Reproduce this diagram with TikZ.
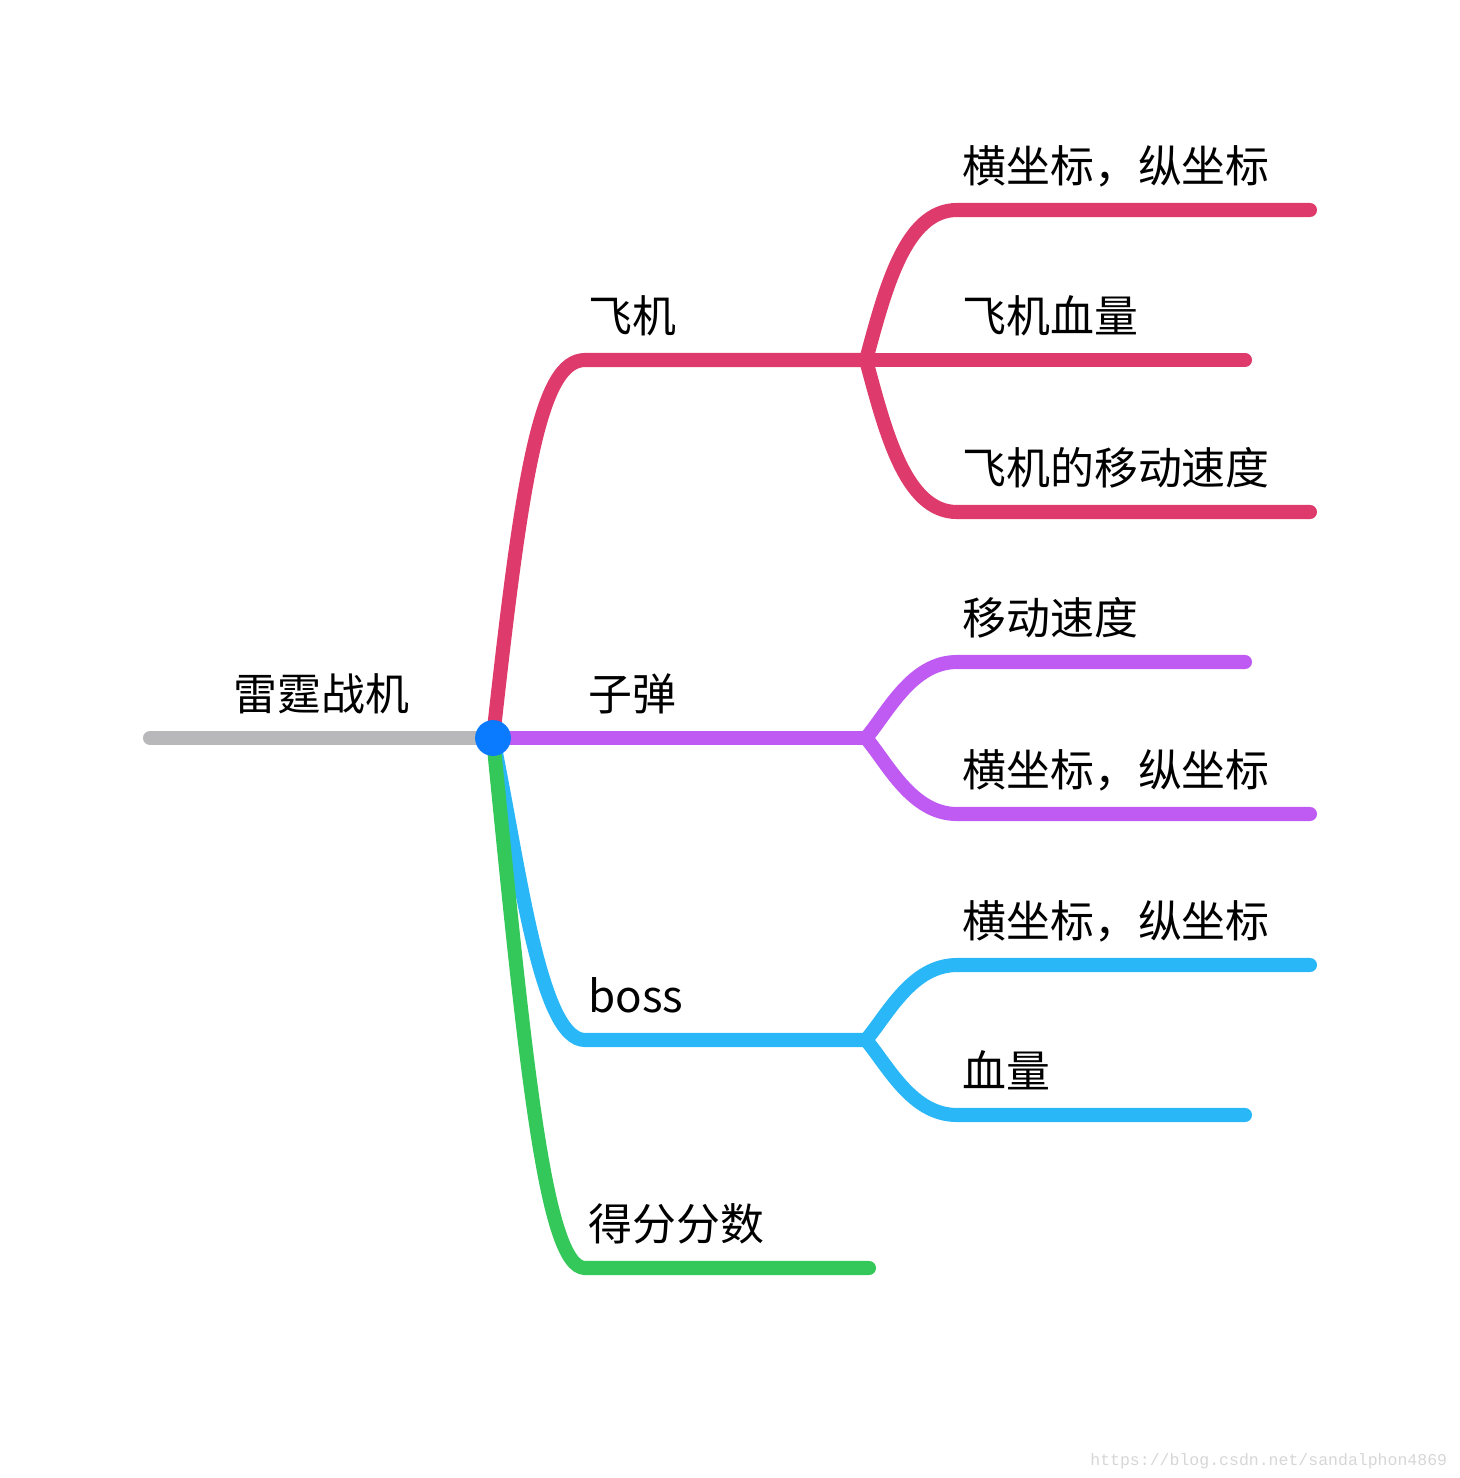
\documentclass[tikz,border=0pt]{standalone}
\usepackage{fontspec}
\setmainfont{Noto Sans CJK SC}
\newfontfamily\urlfont{Liberation Mono}
\usetikzlibrary{positioning}
\definecolor{rootgray}{HTML}{B8B8BA}
\definecolor{planered}{HTML}{DE3A6B}
\definecolor{bulletpurple}{HTML}{BF5AF2}
\definecolor{bosscyan}{HTML}{2AB7F7}
\definecolor{scoregreen}{HTML}{34C759}
\definecolor{dotblue}{HTML}{0A7AFF}
\definecolor{markgray}{HTML}{D6D6D6}

\begin{document}
\begin{tikzpicture}[x=0.02cm, y=-0.02cm,
    branch/.style={line width=8pt, line cap=round},
    lbl/.style={anchor=base west, inner sep=0pt,
	font=\fontsize{25}{30}\selectfont}]
    \useasboundingbox (0, 0) rectangle (1460, 1478);
    % forks
    \coordinate (root) at (493, 738);
    \coordinate (start) at (150, 738);
    \coordinate (planefork) at (866, 360);
    \coordinate (bulletfork) at (866, 738);
    \coordinate (bossfork) at (866, 1040);
    % free ends
    \coordinate (planeposend) at (1310, 210);
    \coordinate (planehpend) at (1245, 360);
    \coordinate (planespeedend) at (1310, 512);
    \coordinate (bulletspeedend) at (1245, 662);
    \coordinate (bulletposend) at (1310, 814);
    \coordinate (bossposend) at (1310, 965);
    \coordinate (bosshpend) at (1245, 1115);
    \coordinate (scoreend) at (869, 1268);

    \node[lbl] (title) at (233, 710) {雷霆战机};
    \node[lbl] (plane) at (588, 332) {飞机};
    \node[lbl] (bullet) at (588, 710) {子弹};
    \node[lbl] (boss) at (588, 1012) {boss};
    \node[lbl] (score) at (588, 1240) {得分分数};
    \node[lbl] (planepos) at (962, 182) {横坐标，纵坐标};
    \node[lbl] (planehp) at (962, 332) {飞机血量};
    \node[lbl] (planespeed) at (962, 484) {飞机的移动速度};
    \node[lbl] (bulletspeed) at (962, 634) {移动速度};
    \node[lbl] (bulletpos) at (962, 786) {横坐标，纵坐标};
    \node[lbl] (bosspos) at (962, 937) {横坐标，纵坐标};
    \node[lbl] (bosshp) at (962, 1087) {血量};

    \draw[branch, rootgray] (start) -- (root);
    % 飞机
    \draw[branch, planered] (root) .. controls (522, 475) and (540, 360)
	.. (585, 360) -- (planefork);
    \draw[branch, planered] (planefork) .. controls (885, 290) and (905, 210)
	.. (957, 210) -- (planeposend);
    \draw[branch, planered] (planefork) -- (planehpend);
    \draw[branch, planered] (planefork) .. controls (885, 430) and (905, 512)
	.. (957, 512) -- (planespeedend);
    % 子弹
    \draw[branch, bulletpurple] (root) -- (bulletfork);
    \draw[branch, bulletpurple] (bulletfork) .. controls (888, 712) and (912, 662)
	.. (957, 662) -- (bulletspeedend);
    \draw[branch, bulletpurple] (bulletfork) .. controls (888, 764) and (912, 814)
	.. (957, 814) -- (bulletposend);
    % boss
    \draw[branch, bosscyan] (root) .. controls (520, 870) and (540, 1040)
	.. (585, 1040) -- (bossfork);
    \draw[branch, bosscyan] (bossfork) .. controls (888, 1014) and (912, 965)
	.. (957, 965) -- (bossposend);
    \draw[branch, bosscyan] (bossfork) .. controls (888, 1066) and (912, 1115)
	.. (957, 1115) -- (bosshpend);
    % 得分
    \draw[branch, scoregreen] (root) .. controls (525, 1060) and (545, 1268)
	.. (585, 1268) -- (scoreend);
    \fill[dotblue] (root) circle (10.2pt);

    \node[anchor=base west, inner sep=0pt, text=markgray,
	font=\urlfont\fontsize{9.4}{11}\selectfont] (mark) at (1090, 1465)
	{https://blog.csdn.net/sandalphon4869};
\end{tikzpicture}
\end{document}
